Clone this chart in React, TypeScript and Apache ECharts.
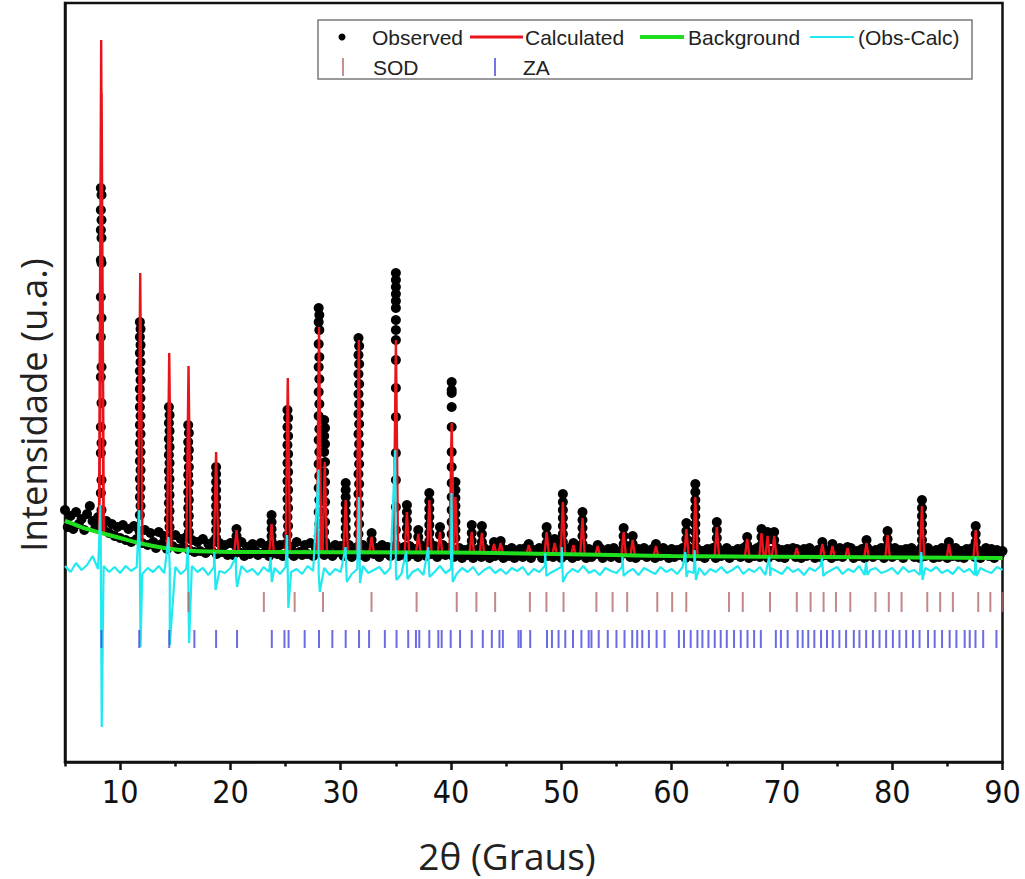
import React, { useEffect, useRef } from 'react';
import * as echarts from 'echarts';

// ---------- axis ----------
const X_MIN = 5;
const X_MAX = 90;
const X_MAJOR = [10, 20, 30, 40, 50, 60, 70, 80, 90];
const X_MINOR = [5, 15, 25, 35, 45, 55, 65, 75, 85];
const Y_MIN = 0;
const Y_MAX = 7590;

// ---------- observed (baseline, 2θ grid 5.00 .. 90.00 step 0.25) ----------
const OBS_START = 5;
const OBS_STEP = 0.25;
const OBS_BASE = [
  2520, 2350, 2460, 2330, 2500, 2380, 2430, 2320, 2480, 2560, 2410, 2340, 2450, 2390, 2320, 2410, 2290, 2380, 2260, 2350,
  2240, 2370, 2220, 2330, 2200, 2360, 2230, 2310, 2190, 2320, 2170, 2290, 2200, 2140, 2300, 2180, 2260, 2130, 2250, 2160,
  2270, 2130, 2230, 2150, 2250, 2120, 2220, 2100, 2200, 2110, 2230, 2090, 2180, 2120, 2210, 2080, 2190, 2100, 2170, 2070,
  2190, 2070, 2160, 2100, 2200, 2060, 2150, 2080, 2180, 2110, 2070, 2190, 2090, 2160, 2060, 2200, 2120, 2080, 2170, 2060,
  2180, 2090, 2150, 2060, 2200, 2100, 2070, 2170, 2080, 2190, 2060, 2140, 2100, 2180, 2070, 2160, 2090, 2060, 2170, 2100,
  2160, 2060, 2130, 2170, 2050, 2110, 2150, 2070, 2170, 2050, 2120, 2160, 2080, 2140, 2050, 2170, 2090, 2150, 2060, 2130,
  2170, 2060, 2120, 2150, 2050, 2160, 2080, 2130, 2050, 2170, 2100, 2060, 2150, 2080, 2160, 2050, 2120, 2170, 2070, 2140,
  2140, 2050, 2110, 2140, 2040, 2120, 2070, 2140, 2040, 2100, 2130, 2050, 2140, 2080, 2040, 2130, 2060, 2140, 2090, 2040,
  2120, 2060, 2140, 2040, 2100, 2130, 2050, 2140, 2070, 2040, 2120, 2090, 2140, 2040, 2110, 2060, 2140, 2050, 2120, 2080,
  2040, 2130, 2070, 2140, 2040, 2110, 2060, 2140, 2090, 2040, 2130, 2050, 2120, 2080, 2140, 2040, 2100, 2130, 2050, 2140,
  2070, 2040, 2120, 2090, 2140, 2050, 2110, 2040, 2130, 2070, 2140, 2050, 2100, 2130, 2040, 2120, 2060, 2140, 2080, 2040,
  2130, 2050, 2120, 2070, 2140, 2040, 2100, 2130, 2050, 2140, 2060, 2110, 2040, 2130, 2080, 2140, 2040, 2120, 2060, 2100,
  2140, 2040, 2110, 2070, 2130, 2050, 2140, 2090, 2040, 2120, 2060, 2140, 2050, 2100, 2130, 2040, 2110, 2070, 2140, 2050,
  2120, 2040, 2130, 2080, 2140, 2050, 2100, 2040, 2130, 2060, 2140, 2090, 2040, 2120, 2050, 2140, 2070, 2110, 2040, 2130,
  2060, 2140, 2050, 2120, 2080, 2140, 2040, 2110, 2060, 2130, 2040, 2140, 2090, 2050, 2120, 2070, 2140, 2040, 2100, 2130,
  2050, 2140, 2070, 2120, 2040, 2130, 2090, 2140, 2050, 2110, 2040, 2130, 2060, 2140, 2080, 2040, 2120, 2050, 2140, 2090,
  2040, 2130, 2060, 2140, 2050, 2110, 2040, 2130, 2080, 2140, 2050, 2120, 2040, 2100, 2140, 2060, 2130, 2040, 2120, 2070, 2110,
];

// observed points on the reflections: [2θ, intensities]
const OBS_PEAKS: [number, number[]][] = [
  [8.25, [5740, 5520, 5320, 5020, 4650, 4250, 3850, 3350, 3090, 2690]],
  [8.31, [5670, 5420, 5240, 4990, 4440, 3950, 3590, 3190, 2820, 2520]],
  [11.79, [4400, 4250, 4090, 3910, 3730, 3550, 3370, 3190, 3010, 2830, 2650, 2470]],
  [11.85, [4330, 4170, 4000, 3820, 3640, 3460, 3280, 3100, 2920, 2740, 2560]],
  [14.42, [3550, 3390, 3230, 3070, 2910, 2750, 2590, 2430]],
  [14.48, [3470, 3310, 3150, 2990, 2830, 2670, 2510, 2350]],
  [16.17, [3370, 3200, 3040, 2870, 2700, 2540, 2380]],
  [16.23, [3290, 3120, 2950, 2790, 2620, 2460, 2300]],
  [18.7, [2950, 2880, 2800, 2720, 2640, 2560, 2480, 2400, 2320, 2240]],
  [20.55, [2330, 2260]],
  [23.73, [2470, 2400, 2330, 2260]],
  [25.17, [3520, 3350, 3170, 2990, 2810, 2630, 2450, 2270]],
  [25.23, [3440, 3260, 3080, 2900, 2720, 2540, 2360]],
  [28.0, [4540, 4400, 4180, 3950, 3700, 3460, 3220, 2980, 2740, 2500, 2260]],
  [28.06, [4470, 4320, 4050, 3830, 3580, 3330, 3100, 2860, 2620, 2380]],
  [28.5, [3420, 3260, 3100, 2900, 2700, 2500, 2300]],
  [28.58, [3340, 3180, 3000, 2800, 2600, 2400, 2200]],
  [30.45, [2790, 2720, 2650, 2580, 2500, 2420, 2340, 2260, 2180]],
  [31.61, [4240, 4070, 3880, 3680, 3480, 3280, 3080, 2880, 2680, 2480, 2280]],
  [31.67, [4160, 3980, 3780, 3580, 3380, 3180, 2980, 2780, 2580, 2380]],
  [32.8, [2290, 2220]],
  [35.0, [4890, 4820, 4750, 4680, 4610, 4540, 4420, 4320, 4220, 4020, 3740, 3450, 3090, 2820, 2550, 2320]],
  [36.0, [2570, 2500, 2420, 2340, 2260]],
  [37.03, [2320, 2250]],
  [38.03, [2690, 2610, 2530, 2450, 2370, 2290, 2210]],
  [39.0, [2350, 2270]],
  [40.06, [3800, 3720, 3690, 3550, 3350, 3100, 2950, 2790, 2650, 2520, 2400, 2280]],
  [40.4, [2800, 2720, 2640, 2560, 2480, 2400, 2320, 2240]],
  [41.88, [2370, 2290, 2210]],
  [42.8, [2360, 2280, 2200]],
  [43.9, [2200]],
  [44.5, [2210, 2150]],
  [47.05, [2180]],
  [48.67, [2350, 2270, 2190]],
  [49.4, [2230, 2160]],
  [50.14, [2680, 2600, 2520, 2440, 2360, 2280, 2200]],
  [51.1, [2190]],
  [51.92, [2500, 2420, 2340, 2260, 2180]],
  [53.3, [2170]],
  [55.65, [2340, 2260, 2180]],
  [56.47, [2260, 2180]],
  [58.58, [2180]],
  [61.34, [2390, 2310, 2230, 2160]],
  [62.15, [2780, 2700, 2620, 2540, 2460, 2380, 2300, 2220]],
  [64.1, [2400, 2320, 2240, 2160]],
  [66.85, [2250, 2170]],
  [68.15, [2330, 2250, 2170]],
  [68.7, [2300, 2220]],
  [69.3, [2300, 2220]],
  [71.34, [2130]],
  [73.67, [2200, 2140]],
  [74.58, [2180]],
  [75.95, [2150]],
  [77.67, [2220, 2150]],
  [79.58, [2310, 2230, 2160]],
  [82.7, [2620, 2540, 2460, 2380, 2300, 2220, 2150]],
  [85.14, [2200, 2140]],
  [87.57, [2360, 2280, 2200]],
];

// ---------- calculated: [2θ, base, top] ----------
const CALC_START = 2410;
const CALC_END = 2040;
const CALC_PEAKS: [number, number, number][] = [
  [8.28, 2290, 7220], [8.32, 2290, 6690], [11.82, 2185, 4890], [14.45, 2140, 4090], [16.2, 2112, 3960],
  [18.7, 2102, 3100], [20.55, 2100, 2320], [23.73, 2100, 2380], [25.2, 2100, 3840], [28.03, 2100, 4350],
  [28.55, 2100, 3000], [30.45, 2100, 2620], [31.64, 2100, 4220], [32.8, 2100, 2250], [35.0, 2100, 4220],
  [36.0, 2098, 2500], [37.03, 2097, 2280], [38.03, 2096, 2620], [39.0, 2096, 2300], [40.06, 2095, 3390],
  [40.4, 2094, 2650], [41.88, 2092, 2300], [42.8, 2090, 2290], [43.9, 2088, 2180], [44.5, 2087, 2190],
  [47.05, 2083, 2170], [48.67, 2080, 2300], [49.4, 2078, 2190], [50.14, 2077, 2600], [51.1, 2075, 2170],
  [51.92, 2074, 2440], [53.3, 2072, 2160], [55.65, 2068, 2300], [56.47, 2066, 2220], [58.58, 2062, 2160],
  [61.34, 2059, 2330], [62.15, 2058, 2650], [64.1, 2057, 2350], [66.85, 2055, 2230], [68.15, 2054, 2290],
  [68.7, 2054, 2260], [69.3, 2053, 2260], [71.34, 2052, 2140], [73.67, 2051, 2180], [74.58, 2050, 2160],
  [75.95, 2049, 2140], [77.67, 2048, 2190], [79.58, 2047, 2270], [82.7, 2045, 2560], [85.14, 2043, 2180],
  [87.57, 2042, 2320],
];

// ---------- background ----------
const BACKGROUND: [number, number][] = [
  [5, 2410], [6, 2370], [7, 2330], [8.3, 2290], [10, 2240], [11.7, 2190], [14, 2140],
  [16.3, 2112], [20, 2100], [40, 2095], [60, 2060], [90, 2040],
];

// ---------- difference (Obs-Calc), 2θ grid 5.0 .. 90.0 step 0.5 ----------
const DIFF_START = 5;
const DIFF_STEP = 0.5;
const DIFF_BASE = [
  1960, 1900, 1990, 1920, 1970, 2060, 1930, 1960, 1900, 1950,
  1890, 1960, 1910, 1950, 1880, 1940, 1900, 1960, 1890, 1930,
  1950, 1880, 1930, 1960, 1900, 1940, 1870, 1950, 1910, 1890,
  1940, 1890, 1960, 1900, 1930, 1870, 1950, 1900, 1940, 1880,
  1950, 1900, 1930, 1880, 1960, 1910, 1890, 1940, 1870, 1930,
  1900, 1950, 1880, 1930, 1960, 1890, 1920, 1950, 1880, 1940,
  1910, 1880, 1950, 1900, 1930, 1870, 1940, 1900, 1960, 1890,
  1930, 1880, 1940, 1900, 1950, 1870, 1920, 1950, 1890, 1930,
  1880, 1940, 1910, 1950, 1870, 1930, 1900, 1960, 1890, 1920,
  1950, 1880, 1930, 1900, 1960, 1890, 1920, 1870, 1940, 1910,
  1890, 1950, 1900, 1930, 1870, 1940, 1910, 1880, 1950, 1900,
  1930, 1880, 1950, 1910, 1890, 1940, 1870, 1930, 1900, 1950,
  1890, 1920, 1960, 1880, 1930, 1900, 1950, 1870, 1940, 1910,
  1880, 1950, 1900, 1930, 1870, 1940, 1910, 1960, 1890, 1920,
  1950, 1880, 1930, 1900, 1960, 1870, 1920, 1940, 1890, 1910,
  1940, 1880, 1950, 1900, 1920, 1870, 1940, 1910, 1950, 1890,
  1920, 1880, 1950, 1900, 1930, 1870, 1940, 1910, 1890, 1950, 1920,
];
// [2θ, up, down]
const DIFF_SPIKES: [number, number, number][] = [
  [8.28, 2570, 350], [11.8, 2520, 1150], [14.45, 2250, 1170], [16.2, 2150, 1190], [18.6, 2100, 1720],
  [20.55, 2050, 1750], [23.7, 2050, 1800], [25.2, 2270, 1540], [28.05, 2920, 1700], [30.5, 2150, 1800],
  [31.7, 2650, 1790], [35.0, 3120, 1820], [36.0, 2110, 1830], [38.0, 2150, 1850], [40.1, 2690, 1800],
  [48.6, 2090, 1860], [50.1, 2150, 1800], [55.6, 2050, 1860], [61.3, 2100, 1850], [62.15, 2120, 1820],
  [68.9, 2050, 1860], [73.7, 2040, 1860], [77.7, 2000, 1870], [82.7, 2100, 1820], [87.6, 2050, 1860],
];

// ---------- reflection markers ----------
const SOD_LEVEL = 1600;
const SOD_POS = [
  16.2, 23.03, 25.82, 28.39, 32.79, 36.88, 40.52, 42.3, 44.0, 47.15, 48.65, 50.2, 53.18, 54.65, 55.97,
  58.7, 60.05, 61.33, 65.2, 66.45, 68.92, 71.35, 72.6, 73.78, 74.9, 76.2, 78.48, 79.69, 80.85, 83.18,
  84.35, 85.5, 87.8, 88.9, 90.0,
];
const ZA_LEVEL = 1230;
const ZA_POS = [
  8.3, 11.73, 14.45, 16.73, 18.7, 20.6, 23.75, 24.9, 25.27, 26.73, 28.03, 29.24, 30.45, 31.66, 32.57,
  34.0, 35.06, 36.12, 36.82, 37.12, 38.03, 38.85, 39.15, 39.97, 40.82, 41.88, 42.88, 43.7, 44.39, 44.7,
  46.12, 46.33, 47.18, 48.7, 49.15, 49.75, 50.36, 51.06, 51.82, 52.48, 52.73, 53.39, 54.21, 55.0, 55.73,
  56.43, 56.88, 57.34, 57.94, 58.64, 59.36, 60.66, 61.12, 61.73, 62.34, 62.79, 63.34, 63.91, 64.45, 65.0,
  65.66, 66.27, 66.88, 67.48, 68.09, 69.45, 69.91, 70.52, 71.43, 71.88, 72.39, 72.94, 73.55, 74.09, 74.61,
  75.21, 75.82, 76.52, 77.03, 77.64, 78.25, 78.85, 79.45, 80.06, 80.66, 81.27, 81.88, 82.48, 83.25, 83.85,
  84.52, 85.21, 85.82, 86.57, 87.03, 87.55, 88.25, 89.45,
];

const LEGEND_ITEMS = ['Observed', 'Calculated', 'Background', '(Obs-Calc)', 'SOD', 'ZA'];
const X_TITLE = '2θ (Graus)';
const Y_TITLE = 'Intensidade (u.a.)';

const C_OBS = '#000000';
const C_CALC = '#e8141b';
const C_BG = '#1fe01f';
const C_DIFF = '#22e8f0';
const C_SOD = '#b46a6a';
const C_ZA = '#4646dc';

export default function App() {
  const ref = useRef<HTMLDivElement>(null);
  useEffect(() => {
    document.body.style.margin = '0';
    if (!ref.current) return;
    const chart = echarts.init(ref.current, undefined, { renderer: 'svg' });

    const obsData: number[][] = OBS_BASE.map((v, i) => [OBS_START + i * OBS_STEP, v]);
    OBS_PEAKS.forEach(([x, ys]) => ys.forEach((y) => obsData.push([x, y])));

    const calcData: number[][] = [[X_MIN, CALC_START]];
    CALC_PEAKS.forEach(([p, b, t]) => {
      calcData.push([p - 0.2, b], [p, t], [p + 0.2, b]);
    });
    calcData.push([X_MAX, CALC_END]);

    const diffData: number[][] = DIFF_BASE.map((v, i) => [DIFF_START + i * DIFF_STEP, v]);
    DIFF_SPIKES.forEach(([p, u, d]) => diffData.push([p - 0.06, u], [p + 0.05, d]));
    diffData.sort((a, b) => a[0] - b[0]);

    const labelFont = '"Liberation Sans", Arial, sans-serif';
    const titleFont = '"Open Sans", "Noto Sans", sans-serif';

    const lx = 318, ly = 20;
    const graphicEls: any[] = [
      { type: 'rect', z: 100, shape: { x: lx, y: ly, width: 654, height: 59 }, style: { fill: '#fff', stroke: '#7a7a7a', lineWidth: 1.5 } },
      { type: 'circle', z: 101, shape: { cx: 342, cy: 37, r: 3.5 }, style: { fill: C_OBS } },
      { type: 'text', z: 101, x: 372, y: 37, style: { text: LEGEND_ITEMS[0], font: `21px ${labelFont}`, fill: '#222', verticalAlign: 'middle' } },
      { type: 'line', z: 101, shape: { x1: 470, y1: 37, x2: 523, y2: 37 }, style: { stroke: C_CALC, lineWidth: 3 } },
      { type: 'text', z: 101, x: 525, y: 37, style: { text: LEGEND_ITEMS[1], font: `21px ${labelFont}`, fill: '#222', verticalAlign: 'middle' } },
      { type: 'line', z: 101, shape: { x1: 640, y1: 37, x2: 684, y2: 37 }, style: { stroke: C_BG, lineWidth: 4 } },
      { type: 'text', z: 101, x: 688, y: 37, style: { text: LEGEND_ITEMS[2], font: `21px ${labelFont}`, fill: '#222', verticalAlign: 'middle' } },
      { type: 'line', z: 101, shape: { x1: 810, y1: 37, x2: 854, y2: 37 }, style: { stroke: C_DIFF, lineWidth: 2 } },
      { type: 'text', z: 101, x: 858, y: 37, style: { text: LEGEND_ITEMS[3], font: `21px ${labelFont}`, fill: '#222', verticalAlign: 'middle' } },
      { type: 'line', z: 101, shape: { x1: 343, y1: 58, x2: 343, y2: 76 }, style: { stroke: C_SOD, lineWidth: 1.5 } },
      { type: 'text', z: 101, x: 373, y: 67, style: { text: LEGEND_ITEMS[4], font: `21px ${labelFont}`, fill: '#222', verticalAlign: 'middle' } },
      { type: 'line', z: 101, shape: { x1: 495, y1: 58, x2: 495, y2: 76 }, style: { stroke: C_ZA, lineWidth: 1.5 } },
      { type: 'text', z: 101, x: 523, y: 67, style: { text: LEGEND_ITEMS[5], font: `21px ${labelFont}`, fill: '#222', verticalAlign: 'middle' } },
      { type: 'text', z: 101, x: 507, y: 855, style: { text: X_TITLE, font: `37px ${titleFont}`, fill: '#222', align: 'center', verticalAlign: 'middle' } },
      { type: 'text', z: 101, x: 33, y: 405, rotation: Math.PI / 2, style: { text: Y_TITLE, font: `36.5px ${titleFont}`, fill: '#222', align: 'center', verticalAlign: 'middle' } },
    ];

    chart.setOption({
      animation: false,
      backgroundColor: '#fff',
      grid: { left: 65, right: 22.5, top: 3, bottom: 117, containLabel: false, show: true, borderColor: '#111', borderWidth: 2.5, backgroundColor: 'transparent' },
      xAxis: [
        {
          type: 'value', min: X_MIN, max: X_MAX, position: 'bottom',
          axisLine: { show: true, lineStyle: { color: '#111', width: 2.5 } },
          axisTick: { show: true, length: 8, customValues: X_MAJOR, lineStyle: { color: '#111', width: 2.5 } },
          axisLabel: { show: true, customValues: X_MAJOR, fontSize: 32, fontFamily: '"Liberation Sans Narrow", "Arial Narrow", "DejaVu Sans Condensed", sans-serif', color: '#111', margin: 14 },
          splitLine: { show: false },
        },
        {
          type: 'value', min: X_MIN, max: X_MAX, position: 'bottom',
          axisLine: { show: false },
          axisTick: { show: true, length: 4.5, customValues: X_MINOR, lineStyle: { color: '#111', width: 2.5 } },
          axisLabel: { show: false },
          splitLine: { show: false },
        },
      ],
      yAxis: {
        type: 'value', min: Y_MIN, max: Y_MAX,
        axisLine: { show: true, lineStyle: { color: '#111', width: 2.5 } },
        axisTick: { show: false }, axisLabel: { show: false }, splitLine: { show: false },
      },
      series: [
        { name: 'Observed', type: 'scatter', data: obsData, symbol: 'circle', symbolSize: 10, itemStyle: { color: C_OBS, opacity: 1 }, z: 2, silent: true },
        { name: 'Calculated', type: 'line', data: calcData, showSymbol: false, lineStyle: { color: C_CALC, width: 2.4 }, z: 3, silent: true },
        { name: 'Background', type: 'line', data: BACKGROUND, smooth: 0.4, showSymbol: false, lineStyle: { color: C_BG, width: 4 }, z: 4, silent: true },
        { name: '(Obs-Calc)', type: 'line', data: diffData, showSymbol: false, lineStyle: { color: C_DIFF, width: 2.2 }, z: 5, silent: true },
        { name: 'SOD', type: 'scatter', data: SOD_POS.map((p) => [p, SOD_LEVEL]), symbol: 'rect', symbolSize: [2, 20], itemStyle: { color: C_SOD }, z: 5, silent: true },
        { name: 'ZA', type: 'scatter', data: ZA_POS.map((p) => [p, ZA_LEVEL]), symbol: 'rect', symbolSize: [2, 18], itemStyle: { color: C_ZA }, z: 5, silent: true },
      ],
      graphic: { elements: graphicEls },
    });
    return () => chart.dispose();
  }, []);
  return <div ref={ref} style={{ width: 1025, height: 879 }} />;
}
